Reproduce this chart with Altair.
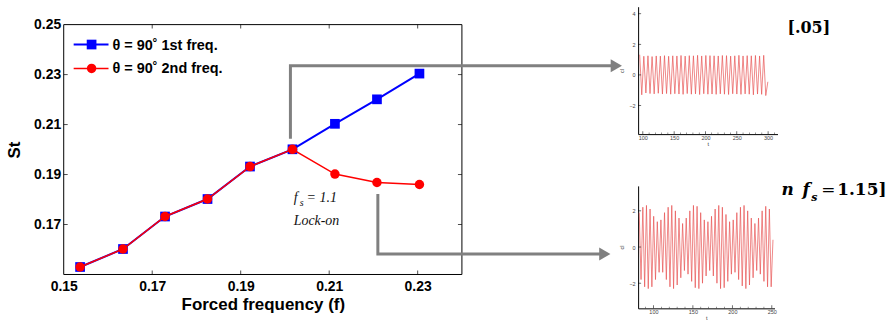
import altair as alt
import pandas as pd
import numpy as np

# ---------------- main chart data ----------------
freq = [0.1537, 0.1634, 0.1729, 0.1825, 0.1921, 0.2017, 0.2113, 0.2208, 0.2304]
st_first = [0.1530, 0.1602, 0.1732, 0.1802, 0.1932, 0.2001, 0.2103, 0.2201, 0.2304]
st_second = [0.1530, 0.1602, 0.1732, 0.1802, 0.1932, 0.2001, 0.1902, 0.1868, 0.1860]
series_labels = ["θ = 90˚ 1st freq.", "θ = 90˚ 2nd freq."]
x_tick_values = [0.15, 0.17, 0.19, 0.21, 0.23]
y_tick_values = [0.17, 0.19, 0.21, 0.23, 0.25]
inner_x_ticks = [0.17, 0.19, 0.21, 0.23]
inner_y_ticks = [0.17, 0.19, 0.21, 0.23]
x_domain = [0.15, 0.24]
y_domain = [0.15, 0.25]

# bracket arrows (data coordinates of the polyline corners)
arrow_x = [0.20124, 0.20124, 0.2749, 0.2210, 0.2210, 0.2723]
arrow_y = [0.2043, 0.2335, 0.2335, 0.1822, 0.1582, 0.1582]
arrow_id = [1, 1, 1, 2, 2, 2]
head_x = [0.2749, 0.2723]
head_y = [0.2335, 0.1582]

# ---------------- inset signals (successive peaks / troughs) ----------------
top_t0, top_half = 95.0, 3.3
top_max = [1.32, 1.22, 1.25, 1.20, 1.24, 1.23, 1.26, 1.22, 1.25, 1.24, 1.27, 1.23, 1.26, 1.25, 1.28, 1.24,
           1.27, 1.26, 1.25, 1.24, 1.27, 1.26, 1.23, 1.25, 1.28, 1.24, 1.26, 1.25, 1.27, 1.24, 1.28]
top_min = [-1.30, -1.18, -1.22, -1.24, -1.20, -1.25, -1.22, -1.26, -1.23, -1.25, -1.27, -1.22, -1.26, -1.24,
           -1.28, -1.23, -1.26, -1.25, -1.27, -1.24, -1.26, -1.28, -1.23, -1.25, -1.27, -1.24, -1.26, -1.30,
           -1.25, -1.27, -1.35]
top_end = -0.45

bot_t0, bot_half = 82.0, 2.29
bot_max = [1.9, 2.2, 2.3, 2.1, 1.7, 1.4, 1.5, 1.9, 2.2, 2.3, 2.0, 1.6, 1.3, 1.6, 2.0, 2.3, 2.25, 1.9, 1.5,
           1.4, 1.7, 2.1, 2.3, 2.2, 1.8, 1.4, 1.5, 1.9, 2.2, 2.3, 2.0, 1.6, 1.3, 1.6, 2.0, 2.25, 2.1]
bot_min = [-1.8, -2.2, -2.3, -2.2, -1.8, -1.4, -1.4, -1.8, -2.2, -2.3, -2.1, -1.7, -1.3, -1.5, -1.9, -2.25,
           -2.3, -2.0, -1.6, -1.3, -1.6, -2.0, -2.3, -2.25, -1.9, -1.5, -1.4, -1.8, -2.15, -2.3, -2.1, -1.7,
           -1.3, -1.5, -1.9, -2.2, -2.2]
bot_end = 0.4

top_x_labels = [100, 150, 200, 250, 300]
top_y_labels = [-2, 0, 2, 4]
bot_x_labels = [100, 150, 200, 250]
bot_y_labels = [-2, 0, 2]

SANS = "Liberation Sans"
SERIF = "Liberation Serif"
DSERIF = "DejaVu Serif"

one = pd.DataFrame({"a": [0]})


def ghost(x1, x2, y1, y2):
    # invisible rule that only fixes the layout bounding box of a panel
    return alt.Chart(one).mark_rule(opacity=0, strokeWidth=0.01).encode(
        x=alt.value(x1), x2=alt.value(x2), y=alt.value(y1), y2=alt.value(y2))


# ---------------- main chart ----------------
W = 400
TOP = 18           # empty band above the plot area (insets start higher than the plot)
VH = 251 + TOP     # view height
xs = alt.Scale(domain=x_domain, nice=False, zero=False)
ys = alt.Scale(domain=y_domain, nice=False, zero=False, range=[VH, TOP])

x_ax = alt.Axis(values=x_tick_values, format=".2f", ticks=False, domain=False, grid=False,
                labelFont=SANS, labelFontSize=14, labelFontWeight="bold", labelColor="black",
                labelPadding=5, labelFlush=False, titleFont=SANS, titleFontSize=17,
                titleFontWeight="bold", titleColor="black", titlePadding=3)
y_ax = alt.Axis(values=y_tick_values, format=".2f", ticks=False, domain=False, grid=False,
                labelFont=SANS, labelFontSize=14, labelFontWeight="bold", labelColor="black",
                labelPadding=3, labelFlush=False, titleFont=SANS, titleFontSize=17,
                titleFontWeight="bold", titleColor="black", titlePadding=10)
X = alt.X("x:Q", scale=xs, axis=x_ax, title="Forced frequency (f)")
Y = alt.Y("y:Q", scale=ys, axis=y_ax, title="St")
X2 = alt.X2("x2")
Y2 = alt.Y2("y2")

df1 = pd.DataFrame({"x": freq, "y": st_first})
df2 = pd.DataFrame({"x": freq, "y": st_second})
frame_df = pd.DataFrame({"x": [x_domain[0]], "x2": [x_domain[1]], "y": [y_domain[0]], "y2": [y_domain[1]]})

arrows = pd.DataFrame({"x": arrow_x, "y": arrow_y, "arrow": arrow_id, "o": list(range(len(arrow_x)))})
heads = pd.DataFrame({"x": head_x, "y": head_y})

frame = alt.Chart(frame_df).mark_rect(filled=False, stroke="black", strokeWidth=1).encode(
    x=X, x2=X2, y=Y, y2=Y2)
arrow_lines = alt.Chart(arrows).mark_line(color="#808080", strokeWidth=3, strokeJoin="miter").encode(
    x=X, y=Y, detail="arrow:N", order="o:Q")
arrow_heads = alt.Chart(heads).mark_point(shape="triangle-right", filled=True, size=170,
                                          color="#808080", opacity=1).encode(x=X, y=Y)

blue_line = alt.Chart(df1).mark_line(color="#0000ff", strokeWidth=2).encode(x=X, y=Y)
blue_pts = alt.Chart(df1).mark_square(color="#0000ff", size=95, opacity=1).encode(x=X, y=Y)
red_line = alt.Chart(df2).mark_line(color="#ff0000", strokeWidth=1.5).encode(x=X, y=Y)
red_pts = alt.Chart(df2).mark_circle(color="#ff0000", size=90, opacity=1).encode(x=X, y=Y)

tx = pd.DataFrame({"x": inner_x_ticks})
ty = pd.DataFrame({"y": inner_y_ticks})
tick_b = alt.Chart(tx).mark_tick(orient="vertical", size=4, thickness=1, color="black").encode(x=X, y=alt.value(VH - 2))
tick_t = alt.Chart(tx).mark_tick(orient="vertical", size=4, thickness=1, color="black").encode(x=X, y=alt.value(TOP + 2))
tick_l = alt.Chart(ty).mark_tick(orient="horizontal", size=4, thickness=1, color="black").encode(y=Y, x=alt.value(2))
tick_r = alt.Chart(ty).mark_tick(orient="horizontal", size=4, thickness=1, color="black").encode(y=Y, x=alt.value(W - 2))

legend_layers = []
for i, (lab, col) in enumerate(zip(series_labels, ["#0000ff", "#ff0000"])):
    yy = TOP + 20 + 24 * i
    legend_layers.append(alt.Chart(one).mark_rule(color=col, strokeWidth=2 if i == 0 else 1.5).encode(
        x=alt.value(10), x2=alt.value(45), y=alt.value(yy)))
    if i == 0:
        legend_layers.append(alt.Chart(one).mark_square(color=col, size=95, opacity=1).encode(
            x=alt.value(28), y=alt.value(yy)))
    else:
        legend_layers.append(alt.Chart(one).mark_circle(color=col, size=90, opacity=1).encode(
            x=alt.value(28), y=alt.value(yy)))
    legend_layers.append(alt.Chart(pd.DataFrame({"t": [lab]})).mark_text(
        align="left", baseline="middle", font=SANS, fontSize=14.5, fontWeight="bold", color="black").encode(
        x=alt.value(49), y=alt.value(yy + 1), text="t:N"))


def note(txt, px, py, size):
    return alt.Chart(pd.DataFrame({"t": [txt]})).mark_text(
        align="left", baseline="alphabetic", font=SERIF, fontSize=size, fontStyle="italic",
        color="#111").encode(x=alt.value(px), y=alt.value(py), text="t:N")


ann = [note("f", 231, TOP + 178, 14), note("s", 237, TOP + 182, 10),
       note("= 1.1", 244, TOP + 178, 14), note("Lock-on", 231, TOP + 201, 14)]

main = alt.layer(ghost(-62, 570, 100, 100), frame, arrow_lines, arrow_heads, blue_line, blue_pts,
                 red_line, red_pts, tick_b, tick_t, tick_l, tick_r, *legend_layers, *ann).properties(
    width=W, height=VH)


# ---------------- insets ----------------
def interleave(mx, mn, end):
    vals = []
    for a, b in zip(mx, mn):
        vals += [a, b]
    vals.append(end)
    return vals


def inset(t0, half, mx, mn, end, w, h, xdom, ydom, xlabels, ylabels, texts, box):
    vals = interleave(mx, mn, end)
    t = [t0 + half * i for i in range(len(vals))]
    df = pd.DataFrame({"t": t, "v": vals})
    sx = alt.Scale(domain=xdom, nice=False, zero=False)
    sy = alt.Scale(domain=ydom, nice=False, zero=False)
    ax = alt.Axis(values=xlabels, ticks=False, grid=False, domainColor="black", domainWidth=1,
                  labelFont=SANS, labelFontSize=5.5, labelColor="#444", labelPadding=1.5, labelFlush=False,
                  titleFont=SANS, titleFontSize=5.5, titleFontWeight="normal", titleColor="#333", titlePadding=0)
    ay = alt.Axis(values=ylabels, ticks=False, grid=False, domainColor="black", domainWidth=1,
                  labelFont=SANS, labelFontSize=5.5, labelColor="#444", labelPadding=3, labelFlush=False,
                  titleFont=SANS, titleFontSize=5.5, titleFontWeight="normal", titleColor="#333", titlePadding=4)
    TX = alt.X("t:Q", scale=sx, axis=ax, title="t")
    TY = alt.Y("v:Q", scale=sy, axis=ay, title="cl")
    line = alt.Chart(df).mark_line(color="#e85050", strokeWidth=0.8, opacity=0.85).encode(x=TX, y=TY)
    minor = [m for m in range(int(np.ceil(xdom[0] / 10.0)) * 10, int(xdom[1]) + 1, 10) if m % 50 != 0]
    maj_x = alt.Chart(pd.DataFrame({"t": xlabels})).mark_tick(orient="vertical", size=3, thickness=0.8,
        color="black").encode(x=TX, y=alt.value(h - 1.5))
    min_x = alt.Chart(pd.DataFrame({"t": minor})).mark_tick(orient="vertical", size=1.6, thickness=0.6,
        color="black").encode(x=TX, y=alt.value(h - 0.8))
    maj_y = alt.Chart(pd.DataFrame({"v": ylabels})).mark_tick(orient="horizontal", size=3, thickness=0.8,
        color="black").encode(y=TY, x=alt.value(1.5))
    layers = [ghost(*box), line, maj_x, min_x, maj_y]
    for (txt, px, py, size, style, weight, font) in texts:
        layers.append(alt.Chart(pd.DataFrame({"s": [txt]})).mark_text(
            align="left", baseline="alphabetic", font=font, fontSize=size, fontStyle=style,
            fontWeight=weight, color="black").encode(x=alt.value(px), y=alt.value(py), text="s:N"))
    return alt.layer(*layers).properties(width=w, height=h)


top = inset(top_t0, top_half, top_max, top_min, top_end, 140, 128, [92.5, 315], [-3.87, 4.46],
            top_x_labels, top_y_labels,
            [("[.05]", 150, 26, 16, "normal", "bold", DSERIF)],
            (-30, -30, -2, 160))
bottom = inset(bot_t0, bot_half, bot_max, bot_min, bot_end, 137, 123, [80.6, 253.4], [-3.39, 3.38],
               bot_x_labels, bot_y_labels,
               [("n", 144, 9, 17, "italic", "bold", DSERIF),
                ("f", 165, 9, 17, "italic", "bold", DSERIF),
                ("s", 174, 15, 11, "italic", "bold", DSERIF),
                ("=", 184, 9, 17, "normal", "normal", DSERIF),
                ("1.15]", 200, 9, 17, "normal", "bold", DSERIF)],
               (-30, -30, -10, 50))

right_col = alt.vconcat(top, bottom, spacing=8)
chart = alt.hconcat(main, right_col, spacing=-25).properties(
    padding={"left": 1, "top": 3, "right": 0, "bottom": 0},
    background="white").configure_view(stroke="transparent")

chart.save("out.html", embed_options={"renderer": "svg", "actions": False})
